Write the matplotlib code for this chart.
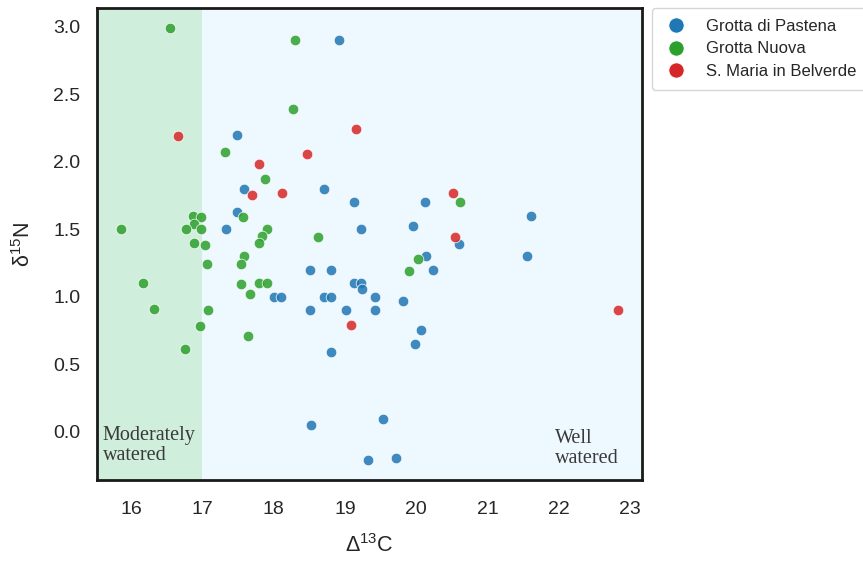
import matplotlib
matplotlib.use("Agg")
import matplotlib.pyplot as plt
from matplotlib.lines import Line2D

# ---- data ----
groups = ["Grotta di Pastena", "Grotta Nuova", "S. Maria in Belverde"]
colors = ["#1f77b4", "#2ca02c", "#d62728"]

pastena_x = [18.91, 17.49, 17.59, 18.71, 19.12, 17.49, 17.33, 19.22, 20.13, 21.61,
             19.96, 20.60, 21.56, 20.14, 20.24, 18.51, 18.81, 19.12, 19.22, 19.24,
             18.00, 18.10, 18.70, 18.81, 19.42, 19.81, 18.51, 19.02, 19.42, 20.07,
             19.99, 18.81, 19.53, 18.52, 19.32, 19.72]
pastena_y = [2.90, 2.20, 1.80, 1.80, 1.70, 1.63, 1.50, 1.50, 1.70, 1.60,
             1.52, 1.39, 1.30, 1.30, 1.20, 1.20, 1.20, 1.10, 1.10, 1.06,
             1.00, 1.00, 1.00, 1.00, 1.00, 0.97, 0.90, 0.90, 0.90, 0.75,
             0.65, 0.59, 0.09, 0.05, -0.21, -0.20]

nuova_x = [16.55, 18.30, 18.27, 17.31, 17.88, 17.57, 16.87, 16.98, 16.88, 15.86,
           16.77, 16.98, 17.90, 17.83, 18.62, 16.88, 17.04, 17.79, 17.59, 17.07,
           17.54, 16.17, 17.54, 17.79, 17.90, 17.67, 16.32, 17.08, 16.97, 17.64,
           16.75, 20.61, 20.03, 19.90]
nuova_y = [2.99, 2.90, 2.39, 2.07, 1.87, 1.59, 1.60, 1.59, 1.54, 1.50,
           1.50, 1.50, 1.50, 1.45, 1.44, 1.40, 1.38, 1.40, 1.30, 1.24,
           1.24, 1.10, 1.09, 1.10, 1.10, 1.02, 0.91, 0.90, 0.78, 0.71,
           0.61, 1.70, 1.28, 1.19]

belverde_x = [16.66, 19.15, 18.47, 17.79, 17.69, 18.11, 20.51, 20.54, 19.08, 22.83]
belverde_y = [2.19, 2.24, 2.06, 1.98, 1.75, 1.77, 1.77, 1.44, 0.79, 0.90]

xs = [pastena_x, nuova_x, belverde_x]
ys = [pastena_y, nuova_y, belverde_y]

# ---- figure ----
plt.rcParams['font.family'] = ['Liberation Sans', 'DejaVu Sans']
plt.rcParams['mathtext.fontset'] = 'custom'
plt.rcParams['mathtext.rm'] = 'Liberation Sans'
plt.rcParams['mathtext.it'] = 'Liberation Sans'
plt.rcParams['mathtext.default'] = 'regular'

fig = plt.figure(figsize=(8.63, 5.61), dpi=100)
ax = fig.add_axes([0.1124, 0.1444, 0.6316, 0.8413])

xmin, xmax = 15.52, 23.17
ymin, ymax = -0.36, 3.14
ax.axvspan(xmin, 17.0, color="#d0eedc", zorder=0, lw=0)
ax.axvspan(17.0, xmax, color="#eef9ff", zorder=0, lw=0)

for gx, gy, c in zip(xs, ys, colors):
    ax.scatter(gx, gy, s=58, color=c, alpha=0.85, edgecolor="white",
               linewidth=0.6, zorder=3)

ax.set_xlim(xmin, xmax)
ax.set_ylim(ymin, ymax)
ax.set_xticks(range(16, 24))
ax.set_yticks([0.0, 0.5, 1.0, 1.5, 2.0, 2.5, 3.0])
ax.set_yticklabels(["0.0", "0.5", "1.0", "1.5", "2.0", "2.5", "3.0"])
ax.tick_params(length=0, labelsize=14, colors="#262626")
ax.tick_params(axis="x", pad=15)
ax.tick_params(axis="y", pad=12)

for sp in ax.spines.values():
    sp.set_color("#1a1a1a")
    sp.set_linewidth(2)

ax.set_xlabel("Δ$^{13}$C", fontsize=15.5, color="#262626", labelpad=12)
ax.set_ylabel("δ$^{15}$N", fontsize=15.5, color="#262626", labelpad=13)

ax.text(15.6, 0.04, "Moderately\nwatered", family=["Liberation Serif"],
        fontsize=14.5, color="#3a3a3a", va="top", ha="left", linespacing=1.1)
ax.text(21.95, 0.02, "Well\nwatered", family=["Liberation Serif"],
        fontsize=14.5, color="#3a3a3a", va="top", ha="left", linespacing=1.1)

handles = [Line2D([0], [0], marker="o", ls="", markersize=11, color=c,
                  markeredgecolor="white", markeredgewidth=0.6)
           for c in colors]
leg = ax.legend(handles, groups, loc="upper left", bbox_to_anchor=(1.018, 1.0),
                borderaxespad=0, fontsize=12, frameon=True, labelspacing=0.45,
                handlelength=1.6, handletextpad=1.0, borderpad=0.65)
leg.get_frame().set_edgecolor("#cccccc")
for t in leg.get_texts():
    t.set_color("#262626")

fig.savefig("out.png", dpi=100)
